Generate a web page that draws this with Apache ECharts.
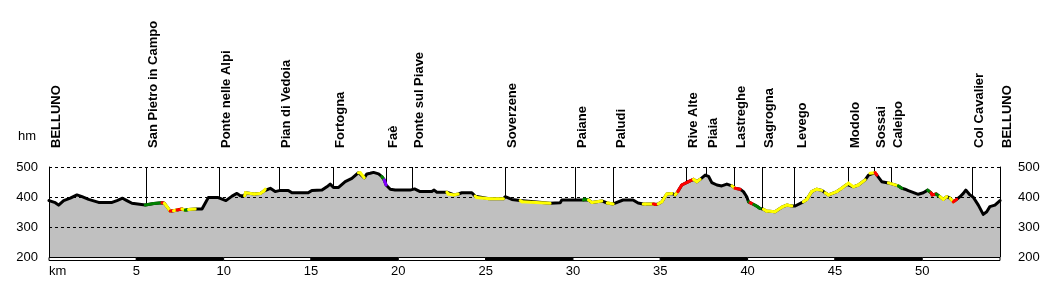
<!DOCTYPE html>
<html><head><meta charset="utf-8">
<script src="https://cdn.jsdelivr.net/npm/echarts@6/dist/echarts.min.js"></script>
<style>html,body{margin:0;padding:0;background:#fff}#c{width:1050px;height:283px}</style>
</head><body><div id="c"></div>
<script>
// ---- DATA ----
const km = [0.00,0.36,0.55,0.84,1.22,1.60,1.89,2.27,2.84,3.61,3.89,4.21,4.46,4.75,5.51,6.00,6.47,6.60,6.75,6.94,
7.13,7.33,7.61,7.80,7.99,8.37,8.76,8.95,9.12,9.69,10.13,10.48,10.76,10.95,11.20,11.25,11.75,12.10,12.30,12.38,
12.67,12.95,13.24,13.70,13.91,14.84,15.05,15.63,15.91,16.10,16.29,16.58,16.96,17.34,17.72,17.82,18.05,18.20,18.39,18.58,
18.87,19.06,19.19,19.30,19.35,19.54,19.82,20.68,20.93,21.25,21.92,22.05,22.21,22.78,22.86,23.20,23.43,23.64,24.21,24.40,
24.50,25.20,26.02,26.12,26.50,26.98,27.08,28.69,28.79,29.27,29.36,30.60,30.66,30.89,31.08,31.65,31.73,31.96,32.01,32.30,
32.41,32.87,33.44,33.73,34.02,34.13,34.60,34.75,34.88,35.09,35.37,35.66,35.85,36.00,36.23,36.61,36.90,37.09,37.28,37.57,
37.76,37.95,38.24,38.52,38.81,39.10,39.28,39.57,39.76,39.95,40.05,40.14,40.35,40.53,40.71,40.90,41.09,41.57,41.96,42.24,
42.53,42.72,43.19,43.39,43.67,43.96,44.25,44.44,44.63,45.11,45.39,45.68,45.77,46.06,46.34,46.73,46.92,47.01,47.30,47.40,
47.68,47.78,48.06,48.63,48.83,49.01,49.20,49.77,50.06,50.31,50.50,50.57,50.80,51.01,51.20,51.40,51.59,51.78,51.97,52.16,
52.35,52.49,52.73,52.92,53.21,53.49,53.69,53.87,54.16,54.45];
const elev = [388,381,373,388,396,407,401,392,382,382,388,396,388,379,373,378,381,379,368,353,
354,357,360,356,358,360,360,380,398,398,388,403,412,404,404,414,410,412,420,426,
429,418,422,422,414,414,422,423,434,443,432,432,451,462,481,481,464,477,479,482,
477,468,457,440,434,426,423,423,427,418,418,423,416,416,410,407,410,414,414,403,
398,394,394,401,392,388,384,379,381,381,390,390,393,390,382,387,385,380,380,377,
380,390,390,380,377,377,377,375,377,384,410,412,407,418,440,451,459,451,459,473,
469,448,440,437,443,437,429,426,418,401,384,381,375,369,362,359,353,351,366,373,
370,370,384,392,418,426,422,414,407,418,429,442,446,434,440,457,473,479,481,473,
451,447,447,437,429,426,421,409,414,423,414,407,410,401,392,401,396,384,392,401,
412,423,407,399,373,342,351,368,373,388];
// gradient class of the segment ending at each point: k=black y=yellow r=red g=green p=purple
const grade = ("kkkkkkkkkkkkkkkggryy" + "ryrygykkkkkkkkkyyyyy" + "kkkkkkkkkkkkkkkyykkk" +
               "kkgpkkkkkkkkkkyyykkk" + "yyykkkyykkkkggyykkyy" + "kkkkkyyrkyyykyrrryyk" +
               "kkkkkkyrkkkgrggkyyyy" + "ykkyyyykyyyyyyyykkyr" + "kkkygkkkkkgrrgyykyrk" + "kkkkkkkkkk").split("");
const gradeColors = {y:"#ffff00", r:"#ff0000", g:"#008000", p:"#8000ff"};
const placeNames = ["BELLUNO","San Pietro in Campo","Ponte nelle Alpi","Pian di Vedoia","Fortogna","Faè",
  "Ponte sul Piave","Soverzene","Paiane","Paludi","Rive Alte","Piaia","Lastreghe","Sagrogna","Levego",
  "Modolo","Sossai","Caleipo","Col Cavalier","BELLUNO"];
const placeKm = [0,5.53,9.71,13.18,16.26,19.29,20.78,26.08,30.09,32.32,36.48,37.61,39.23,40.81,42.68,
  45.77,47.24,48.20,52.83,54.45];
const xTicks = [0,5,10,15,20,25,30,35,40,45,50];
const kmMax = 54.45;
const yTicks = [200,300,400,500];
const gridLevels = [300,400,500];

// ---- CHART ----
const chart = echarts.init(document.getElementById('c'), null, {renderer:'canvas'});
const profile = km.map((k,i)=>[k, elev[i]]);
const segs = [];
for (let i=1;i<km.length;i++){
  if (grade[i] && grade[i] !== 'k') segs.push([km[i-1], elev[i-1], km[i], elev[i], grade[i]]);
}
const bands = xTicks.concat([kmMax]);
const bandData = [];
for (let i=0;i<bands.length-1;i++) bandData.push([bands[i], bands[i+1], i%2]);
const yMin = yTicks[0], yMax = yTicks[yTicks.length-1];
const FONT = '"Liberation Sans", Arial, sans-serif';

chart.setOption({
  animation:false,
  grid:{left:49, right:50, top:167, bottom:26},
  xAxis:{type:'value', min:0, max:kmMax, interval:5,
    axisLine:{show:false}, axisTick:{show:false}, splitLine:{show:false},
    axisLabel:{formatter:v=> v===0 ? 'km' : String(v), showMaxLabel:false, alignMinLabel:'left',
      color:'#000', fontSize:13, fontFamily:FONT, margin:8}},
  yAxis:[
    {type:'value', min:yMin, max:yMax, interval:100, position:'left', z:10,
     axisLine:{show:true, lineStyle:{color:'#000', width:1}}, axisTick:{show:false}, splitLine:{show:false},
     axisLabel:{color:'#000', fontSize:13, fontFamily:FONT, margin:11}},
    {type:'value', min:yMin, max:yMax, interval:100, position:'right', z:10,
     axisLine:{show:true, lineStyle:{color:'#000', width:1}}, axisTick:{show:false}, splitLine:{show:false},
     axisLabel:{color:'#000', fontSize:13, fontFamily:FONT, margin:18}}
  ],
  graphic:[{type:'text', left:18, top:130, style:{text:'hm', font:'13px '+FONT, fill:'#000'}}],
  series:[
    { // place marker lines + names
      type:'custom', z:1, silent:true, clip:false,
      data: placeKm.map((k,i)=>[k,i]),
      encode:{x:0},
      renderItem:(params, api)=>{
        const k = api.value(0), idx = api.value(1);
        const top = api.coord([k, yMax]);
        const bot = api.coord([k, yMin]);
        return {type:'group', children:[
          {type:'line', shape:{x1:Math.round(top[0])+0.5, y1:top[1], x2:Math.round(top[0])+0.5, y2:bot[1]},
           style:{stroke:'#000', lineWidth:1}},
          {type:'text', x:top[0]+1, y:top[1]-19, rotation:Math.PI/2,
           style:{text:placeNames[idx], font:'bold 13px '+FONT, fill:'#000',
                  align:'left', verticalAlign:'top', textAlign:'left', textVerticalAlign:'top'}}
        ]};
      }
    },
    { // filled profile
      type:'line', z:2, data:profile, showSymbol:false, silent:true,
      lineStyle:{width:0, color:'#c0c0c0'}, areaStyle:{color:'#c0c0c0', opacity:1},
      markLine:{silent:true, symbol:['none','none'], label:{show:false},
        lineStyle:{color:'#000', type:[3,3], width:1},
        data: gridLevels.map(v=>({yAxis:v}))}
    },
    { // profile line
      type:'line', z:6, data:profile, showSymbol:false, silent:true,
      lineStyle:{width:3, color:'#000', join:'round', cap:'round'}
    },
    { // coloured gradient segments
      type:'custom', z:7, silent:true,
      data: segs, encode:{x:[0,2], y:[1,3]},
      renderItem:(params, api)=>{
        const s = segs[params.dataIndex];
        const p0 = api.coord([s[0], s[1]]), p1 = api.coord([s[2], s[3]]);
        return {type:'line', shape:{x1:p0[0], y1:p0[1], x2:p1[0], y2:p1[1]},
          style:{stroke:gradeColors[s[4]], lineWidth:3, lineCap:'round'}};
      }
    },
    { // km scale bar
      type:'custom', z:8, silent:true, clip:false,
      data: bandData, encode:{x:[0,1]},
      renderItem:(params, api)=>{
        const b = bandData[params.dataIndex];
        const a = api.coord([b[0], yMin]), c = api.coord([b[1], yMin]);
        return {type:'rect', shape:{x:a[0], y:Math.round(a[1])+0.5, width:c[0]-a[0], height:3},
          style:{fill: b[2] ? '#000' : '#fff', stroke:'#000', lineWidth:1}};
      }
    }
  ]
});
</script></body></html>
